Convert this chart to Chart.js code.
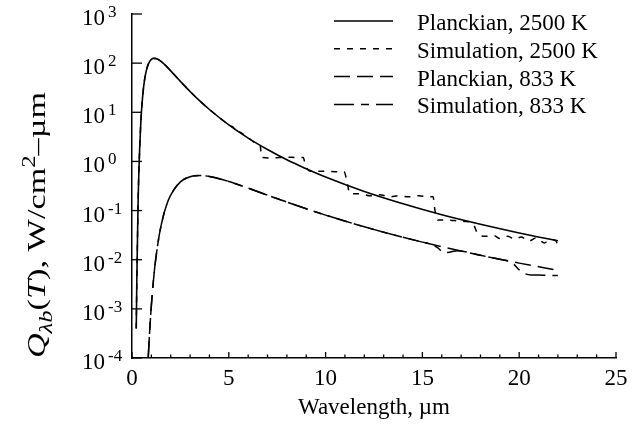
<!DOCTYPE html>
<html>
<head>
<meta charset="utf-8">
<script src="https://cdn.jsdelivr.net/npm/chart.js@4.4.1/dist/chart.umd.min.js"></script>
<style>
  body { margin: 0; background: #fff; }
  #wrap { width: 644px; height: 427px; }
</style>
</head>
<body>
<div id="wrap"><canvas id="myChart"></canvas></div>
<script>
// values: wavelength in um, Q in W/cm2-um
var planck2500Wl = [0.22, 0.25, 0.28, 0.32, 0.36, 0.4, 0.45, 0.5, 0.6, 0.7, 0.8, 0.9, 1.0, 1.1, 1.2, 1.4, 1.7, 2.0, 2.5, 3.0, 3.5, 4.0, 5, 6, 7, 8, 9, 10, 12, 14, 16, 18, 20, 22];
var planck2500Q = [4e-4, 4e-3, 0.022, 0.19, 0.7, 2.0, 5.6, 12, 32.9, 59.8, 85.8, 106, 119, 125, 125, 116, 92.5, 69.7, 42.6, 26.5, 17.0, 11.4, 5.54, 2.99, 1.75, 1.08, 0.71, 0.48, 0.244, 0.137, 0.082, 0.0526, 0.0351, 0.0243];

var sim2500Wl = [0.22, 0.25, 0.28, 0.32, 0.36, 0.4, 0.45, 0.5, 0.6, 0.7, 0.8, 0.9, 1.0, 1.1, 1.2, 1.4, 1.7, 2.0, 2.5, 3.0, 3.5, 4.0, 5.0, 5.3, 5.4, 5.5, 6.0, 6.5, 6.62, 6.7, 7.2, 7.6, 8.0, 8.5, 8.85, 8.95, 9.2, 10.0, 10.5, 10.95, 11.1, 11.25, 11.8, 12.3, 12.8, 13.3, 13.8, 14.3, 14.8, 15.3, 15.55, 15.65, 15.8, 16.3, 16.8, 17.2, 17.6, 17.85, 18.0, 18.3, 18.7, 19.0, 19.4, 19.8, 20.1, 20.5, 20.9, 21.3, 21.6, 21.9, 22.0];
var sim2500Q = [4e-4, 4e-3, 0.022, 0.19, 0.7, 2.0, 5.6, 12, 32.9, 59.8, 85.8, 106, 119, 125, 125, 116, 92.5, 69.7, 42.6, 26.5, 17.0, 11.4, 5.54, 4.56, 3.6, 4.0, 2.99, 2.26, 2.12, 1.2, 1.18, 1.2, 1.22, 1.2, 1.2, 0.85, 0.63, 0.63, 0.62, 0.62, 0.4, 0.22, 0.22, 0.2, 0.21, 0.19, 0.2, 0.19, 0.2, 0.19, 0.19, 0.1, 0.064, 0.064, 0.062, 0.06, 0.055, 0.034, 0.031, 0.03, 0.031, 0.027, 0.03, 0.026, 0.029, 0.024, 0.028, 0.022, 0.026, 0.024, 0.019];

var planck833Wl = [0.84, 0.9, 1.0, 1.1, 1.2, 1.4, 1.6, 1.8, 2.0, 2.5, 3.0, 3.5, 4.0, 5, 6, 7, 8, 9, 10, 12, 14, 16, 18, 20, 22];
var planck833Q = [1.05e-4, 2.9e-4, 1.18e-3, 3.5e-3, 8.5e-3, 0.0304, 0.0728, 0.135, 0.207, 0.383, 0.488, 0.516, 0.494, 0.391, 0.287, 0.206, 0.149, 0.109, 0.0809, 0.0467, 0.0286, 0.0184, 0.0123, 0.00852, 0.00609];

var sim833Wl = [0.84, 0.9, 1.0, 1.1, 1.2, 1.4, 1.6, 1.8, 2.0, 2.5, 3.0, 3.5, 4.0, 5, 6, 7, 8, 9, 10, 12, 14, 15, 15.5, 15.8, 16.1, 16.5, 16.8, 17, 18, 19, 19.4, 19.7, 20.0, 20.3, 20.6, 21, 21.5, 22];
var sim833Q = [1.05e-4, 2.9e-4, 1.18e-3, 3.5e-3, 8.5e-3, 0.0304, 0.0728, 0.135, 0.207, 0.383, 0.488, 0.516, 0.494, 0.391, 0.287, 0.206, 0.149, 0.109, 0.0809, 0.0467, 0.0286, 0.0228, 0.0203, 0.0175, 0.0138, 0.0145, 0.0152, 0.015, 0.0123, 0.0102, 0.0095, 0.0082, 0.0062, 0.0052, 0.0049, 0.0049, 0.0048, 0.0048];

var seriesLabels = ['Planckian, 2500 K', 'Simulation, 2500 K', 'Planckian, 833 K', 'Simulation, 833 K'];
var xTickLabels = ['0', '5', '10', '15', '20', '25'];
var yTickExponents = ['-4', '-3', '-2', '-1', '0', '1', '2', '3'];
var xTitle = 'Wavelength, \u00b5m';

var serif = '"Liberation Serif", "DejaVu Serif", serif';

function toPoints(xs, ys) {
     var pts = [];
     for (var i = 0; i < xs.length; i++) pts.push({ x: xs[i], y: ys[i] });
     return pts;
}

function line(ctx, x1, y1, x2, y2) {
     ctx.beginPath();
     ctx.moveTo(x1, y1);
     ctx.lineTo(x2, y2);
     ctx.stroke();
}

// draws a row of text pieces (italic, sub/superscript) starting at x, baseline y
function drawRuns(ctx, runs, x, y, base) {
     base = base || 23;
     runs.forEach(function (r) {
          ctx.font = (r.it ? 'italic ' : '') + (r.size || base) + 'px ' + serif;
          x += r.dx || 0;
          ctx.fillText(r.t, x, y + (r.dy || 0));
          x += ctx.measureText(r.t).width;
     });
}

function runsWidth(ctx, runs, base) {
     base = base || 23;
     var w = 0;
     runs.forEach(function (r) {
          ctx.font = (r.it ? 'italic ' : '') + (r.size || base) + 'px ' + serif;
          w += ctx.measureText(r.t).width + (r.dx || 0);
     });
     return w;
}

// axis ticks, tick labels, titles and legend, drawn like the original plot
var decorPlugin = {
     id: 'decor',
     afterDraw: function (chart) {
          var ctx = chart.ctx, xs = chart.scales.x, ys = chart.scales.y, area = chart.chartArea;
          ctx.save();
          ctx.strokeStyle = '#000';
          ctx.fillStyle = '#000';
          ctx.lineWidth = 1.3;
          ctx.setLineDash([]);

          // x ticks point inwards, minor every 1 um
          for (var v = 0; v <= 25; v++) {
               var px = xs.getPixelForValue(v);
               line(ctx, px, area.bottom, px, area.bottom - (v % 5 === 0 ? 6 : 3.5));
          }
          // y ticks, one per decade
          yTickExponents.forEach(function (e) {
               var py = ys.getPixelForValue(Math.pow(10, +e));
               line(ctx, area.left, py, area.left + 10, py);
          });

          // x tick labels
          ctx.textAlign = 'center';
          ctx.textBaseline = 'alphabetic';
          ctx.font = '23px ' + serif;
          xTickLabels.forEach(function (t) {
               ctx.fillText(t, xs.getPixelForValue(+t), area.bottom + 27);
          });
          ctx.fillText(xTitle, (area.left + area.right) / 2, 414);

          // y tick labels 10^n
          ctx.textAlign = 'left';
          yTickExponents.forEach(function (e) {
               var py = ys.getPixelForValue(Math.pow(10, +e));
               drawRuns(ctx, [{ t: '10' }, { t: e, size: 17, dy: -8, dx: 3 }], 82, py + 11);
          });

          // y axis title, rotated
          var yRuns = [
               { t: 'Q', it: true },
               { t: '\u03bbb', it: true, size: 18, dy: 7 },
               { t: '(' },
               { t: 'T', it: true },
               { t: '), W/cm' },
               { t: '2', size: 18, dy: -10 },
               { t: '\u2013\u00b5m' }
          ];
          ctx.save();
          ctx.translate(45, 225);
          ctx.rotate(-Math.PI / 2);
          ctx.scale(1.37, 1);
          drawRuns(ctx, yRuns, -runsWidth(ctx, yRuns, 25) / 2, 0, 25);
          ctx.restore();

          // legend, top right inside the plot
          ctx.font = '23px ' + serif;
          ctx.textBaseline = 'alphabetic';
          chart.data.datasets.forEach(function (ds, i) {
               var rowY = 21 + i * 27.8;
               ctx.lineWidth = ds.borderWidth;
               ctx.setLineDash(ds.borderDash || []);
               line(ctx, 334, rowY, 393, rowY);
               ctx.setLineDash([]);
               ctx.fillText(ds.label, 417, rowY + 9);
          });
          ctx.restore();
     }
};

function createSpectrumChart() {
     var ctx = document.getElementById('myChart').getContext('2d');
     window.myChart = new Chart(ctx, {
          type: 'scatter',
          data: {
               datasets: [{
                    label: seriesLabels[0],
                    data: toPoints(planck2500Wl, planck2500Q),
                    borderColor: '#000',
                    borderWidth: 1.6
               }, {
                    label: seriesLabels[1],
                    data: toPoints(sim2500Wl, sim2500Q),
                    borderColor: '#000',
                    borderWidth: 1.5,
                    borderDash: [6, 7]
               }, {
                    label: seriesLabels[2],
                    data: toPoints(planck833Wl, planck833Q),
                    borderColor: '#000',
                    borderWidth: 1.5,
                    borderDash: [16, 7]
               }, {
                    label: seriesLabels[3],
                    data: toPoints(sim833Wl, sim833Q),
                    borderColor: '#000',
                    borderWidth: 1.5,
                    borderDash: [20, 7, 8, 7]
               }]
          },
          options: {
               responsive: true,
               maintainAspectRatio: false,
               animation: false,
               datasets: {
                    scatter: {
                         showLine: true,
                         backgroundColor: '#000',
                         pointRadius: 0,
                         cubicInterpolationMode: 'monotone'
                    }
               },
               layout: {
                    padding: { left: 132, right: 28, top: 14, bottom: 69 }
               },
               scales: {
                    x: {
                         type: 'linear',
                         min: 0,
                         max: 25,
                         grid: { display: false, drawTicks: false },
                         ticks: { display: false },
                         border: { display: true, color: '#000', width: 1.5 }
                    },
                    y: {
                         type: 'logarithmic',
                         min: 1e-4,
                         max: 1e3,
                         grid: { display: false, drawTicks: false },
                         ticks: { display: false },
                         border: { display: true, color: '#000', width: 1.5 }
                    }
               },
               plugins: {
                    legend: { display: false },
                    tooltip: { enabled: false }
               }
          },
          plugins: [decorPlugin]
     });
}

createSpectrumChart();
</script>
</body>
</html>
